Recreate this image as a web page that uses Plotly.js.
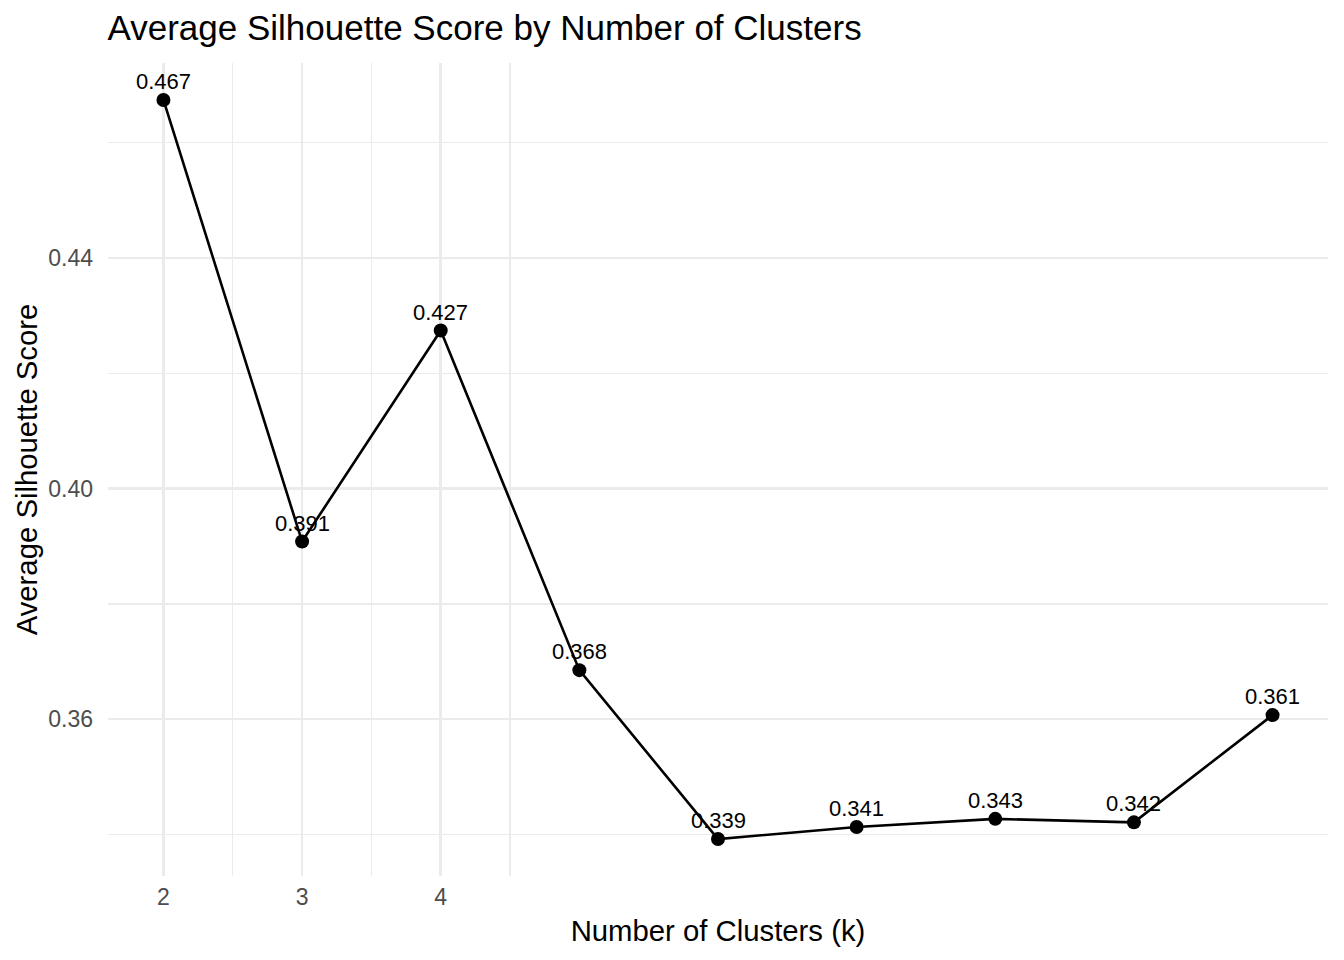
<!DOCTYPE html>
<html>
<head>
<meta charset="utf-8">
<script src="https://cdn.plot.ly/plotly-3.0.1.min.js"></script>
<style>html,body{margin:0;padding:0;background:#fff;}#chart{width:1344px;height:960px;}</style>
</head>
<body>
<div id="chart"></div>
<script>
// Data
const clusters = [2, 3, 4, 5, 6, 7, 8, 9, 10];
const silhouette = [0.4674, 0.3908, 0.4274, 0.3685, 0.3392, 0.3413, 0.3427, 0.3421, 0.3607];
const xTickVals = [2, 3, 4];
const xMinorVals = [2.5, 3.5, 4.5];
const yTickVals = [0.36, 0.40, 0.44];
const yTickText = ["0.36", "0.40", "0.44"];
const yMinorVals = [0.34, 0.38, 0.42, 0.46];

const FONT = "Liberation Sans, Arial, Helvetica, sans-serif";
const GRID = "#EBEBEB";

const ymin = Math.min(...silhouette), ymax = Math.max(...silhouette);
const yexp = (ymax - ymin) * 0.05;

const trace = {
  x: clusters,
  y: silhouette,
  type: "scatter",
  mode: "lines+markers",
  line: {color: "#000000", width: 2.6},
  marker: {color: "#000000", size: 14},
  hoverinfo: "x+y",
  showlegend: false
};

const annotations = clusters.map((k, i) => ({
  x: k, y: silhouette[i], xref: "x", yref: "y",
  text: silhouette[i].toFixed(3),
  showarrow: false,
  xanchor: "center", yanchor: "bottom",
  yshift: 4,
  font: {family: FONT, size: 22, color: "#000000"}
}));

const layout = {
  width: 1344, height: 960,
  margin: {l: 108, r: 16, t: 63, b: 84},
  paper_bgcolor: "#ffffff",
  plot_bgcolor: "#ffffff",
  font: {family: FONT},
  title: {
    text: "Average Silhouette Score by Number of Clusters",
    font: {family: FONT, size: 35, color: "#000000"},
    xref: "container", x: 107.5 / 1344, xanchor: "left",
    yref: "container", y: 1 - 28 / 960, yanchor: "middle"
  },
  xaxis: {
    range: [1.6, 10.4],
    tickmode: "array", tickvals: xTickVals, ticktext: xTickVals.map(String),
    ticks: "", ticklabelstandoff: 5,
    tickfont: {family: FONT, size: 23, color: "#4D4D4D"},
    showgrid: true, gridcolor: GRID, gridwidth: 2.6,
    minor: {tickvals: xMinorVals, showgrid: true, gridcolor: GRID, gridwidth: 1.4, ticks: ""},
    zeroline: false, showline: false,
    title: {text: "Number of Clusters (k)", font: {family: FONT, size: 29.3, color: "#000000"}, standoff: 11}
  },
  yaxis: {
    range: [ymin - yexp, ymax + yexp],
    tickmode: "array", tickvals: yTickVals, ticktext: yTickText,
    ticks: "", ticklabelstandoff: 14,
    tickfont: {family: FONT, size: 23, color: "#4D4D4D"},
    showgrid: true, gridcolor: GRID, gridwidth: 2.6,
    minor: {tickvals: yMinorVals, showgrid: true, gridcolor: GRID, gridwidth: 1.4, ticks: ""},
    zeroline: false, showline: false,
    title: {text: "Average Silhouette Score", font: {family: FONT, size: 29.3, color: "#000000"}, standoff: 1}
  },
  annotations: annotations
};

Plotly.newPlot("chart", [trace], layout, {displayModeBar: false, staticPlot: true});
</script>
</body>
</html>
